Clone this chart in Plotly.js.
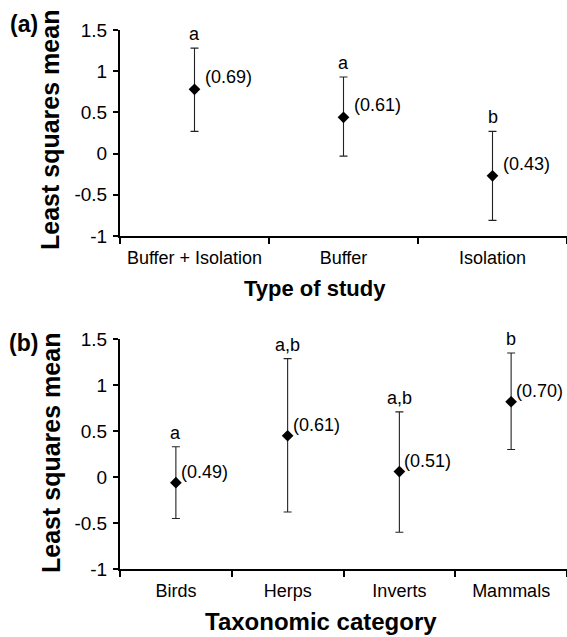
<!DOCTYPE html>
<html>
<head>
<meta charset="utf-8">
<script src="https://cdn.plot.ly/plotly-3.0.1.min.js"></script>
<style>html,body{margin:0;padding:0;background:#fff;}#chart{width:567px;height:637px;}</style>
</head>
<body>
<div id="chart"></div>
<script>
// Panel (a): type of study
var studyCats = ['Buffer + Isolation', 'Buffer', 'Isolation'];
var studyMeans = [0.78, 0.44, -0.27];
var studyUpper = [1.28, 0.93, 0.27];
var studyLower = [0.27, -0.03, -0.81];
var studyLetters = ['a', 'a', 'b'];
var studyR2 = ['(0.69)', '(0.61)', '(0.43)'];

// Panel (b): taxonomic category
var taxaCats = ['Birds', 'Herps', 'Inverts', 'Mammals'];
var taxaMeans = [-0.06, 0.45, 0.06, 0.82];
var taxaUpper = [0.33, 1.29, 0.71, 1.35];
var taxaLower = [-0.45, -0.38, -0.60, 0.30];
var taxaLetters = ['a', 'a,b', 'a,b', 'b'];
var taxaR2 = ['(0.49)', '(0.61)', '(0.51)', '(0.70)'];

var yTickVals = [-1, -0.5, 0, 0.5, 1, 1.5];
var yTickText = ['-1', '-0.5', '0', '0.5', '1', '1.5'];

var FONT = 'Liberation Sans, Arial, Helvetica, sans-serif';

function diff(a, b) { return a.map(function (v, i) { return v - b[i]; }); }

function trace(cats, means, upper, lower, xa, ya) {
  return {
    type: 'scatter', mode: 'markers',
    x: cats, y: means, xaxis: xa, yaxis: ya,
    marker: {symbol: 'diamond', size: 9, color: '#000'},
    error_y: {type: 'data', symmetric: false,
      array: diff(upper, means), arrayminus: diff(means, lower),
      color: '#222', thickness: 1.1, width: 4},
    showlegend: false, hoverinfo: 'none', cliponaxis: false
  };
}

var data = [
  trace(studyCats, studyMeans, studyUpper, studyLower, 'x', 'y'),
  trace(taxaCats, taxaMeans, taxaUpper, taxaLower, 'x2', 'y2')
];

function xaxis(anchor, n) {
  return {
    type: 'category', anchor: anchor, domain: [0, 1],
    showline: true, linecolor: '#000', linewidth: 2,
    ticks: 'outside', tickson: 'boundaries', ticklen: 6, tickwidth: 2, tickcolor: '#000',
    showgrid: false, zeroline: false, ticklabelstandoff: 4,
    tickfont: {family: FONT, size: 18, color: '#000'},
    range: [-0.5, n - 0.5]
  };
}
function yaxis(domain, anchor) {
  return {
    domain: domain, anchor: anchor, range: [-1, 1.5],
    tickvals: yTickVals, ticktext: yTickText,
    showline: true, linecolor: '#000', linewidth: 2,
    ticks: 'outside', ticklen: 5, tickwidth: 2, tickcolor: '#000',
    showgrid: false, zeroline: false, ticklabelstandoff: 2,
    tickfont: {family: FONT, size: 19, color: '#000'}
  };
}

var annotations = [];
function addLabels(cats, means, upper, letters, r2, xr, yr, dx, dy) {
  cats.forEach(function (c, i) {
    annotations.push({x: c, y: upper[i], xref: xr, yref: yr, text: letters[i],
      showarrow: false, xanchor: 'center', yanchor: 'bottom', yshift: 2,
      font: {family: FONT, size: 18, color: '#000'}});
    annotations.push({x: c, y: means[i], xref: xr, yref: yr, text: r2[i],
      showarrow: false, xanchor: 'left', yanchor: 'middle', xshift: dx, yshift: dy,
      font: {family: FONT, size: 18, color: '#000'}});
  });
}
addLabels(studyCats, studyMeans, studyUpper, studyLetters, studyR2, 'x', 'y', 8, 12);
addLabels(taxaCats, taxaMeans, taxaUpper, taxaLetters, taxaR2, 'x2', 'y2', 3, 11);

function txt(text, x, y, size, angle) {
  return {text: '<b>' + text + '</b>', x: x, y: y, xref: 'paper', yref: 'paper',
    showarrow: false, xanchor: 'center', yanchor: 'middle', textangle: angle || 0,
    font: {family: FONT, size: size, color: '#000'}};
}
annotations.push(txt('Least squares mean', -0.1566, 0.8145, 25, -90));
annotations.push(txt('Least squares mean', -0.1544, 0.2152, 25, -90));
annotations.push(txt('Type of study', 0.4362, 0.5213, 22));
annotations.push(txt('Taxonomic category', 0.4486, -0.0978, 24));
annotations.push(txt('(a)', -0.2148, 1.0111, 23));
annotations.push(txt('(b)', -0.217, 0.4193, 23));

var layout = {
  width: 567, height: 637,
  margin: {l: 120, r: 0, t: 30, b: 68},
  paper_bgcolor: '#fff', plot_bgcolor: '#fff',
  xaxis: xaxis('y', studyCats.length), yaxis: yaxis([0.6178, 1], 'x'),
  xaxis2: xaxis('y2', taxaCats.length), yaxis2: yaxis([0, 0.4262], 'x2'),
  annotations: annotations,
  showlegend: false
};

Plotly.newPlot('chart', data, layout, {displayModeBar: false, staticPlot: true});
</script>
</body>
</html>
